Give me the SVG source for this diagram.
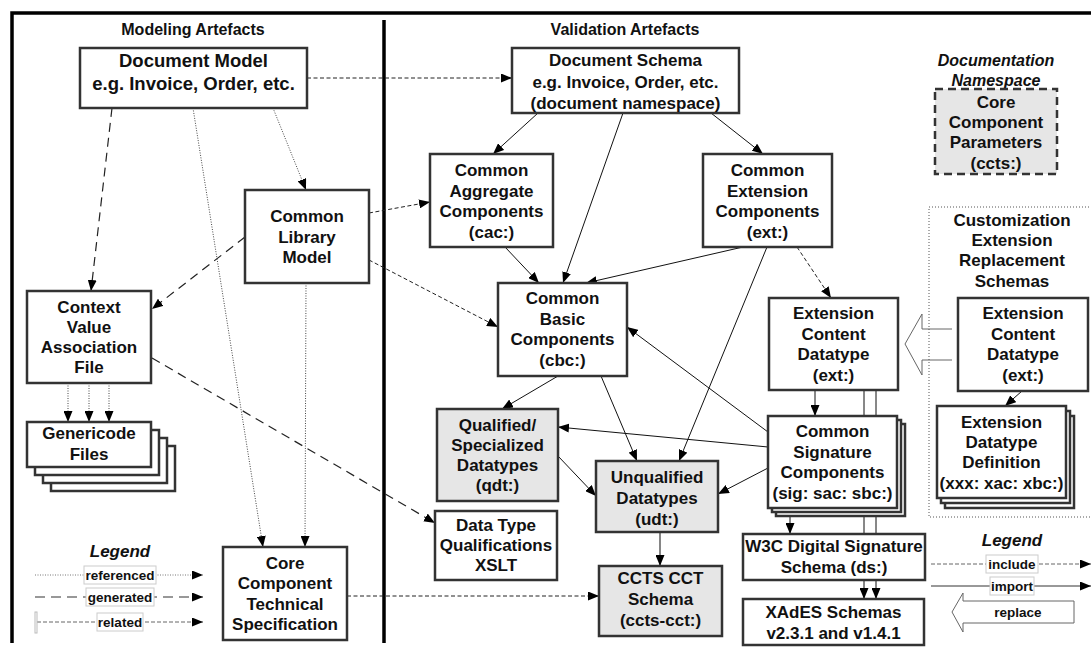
<svg xmlns="http://www.w3.org/2000/svg" width="1091" height="650" viewBox="0 0 1091 650">
<style>
.box{fill:#fff;stroke:#333;stroke-width:2.5}
.gbox{fill:#e6e6e6;stroke:#333;stroke-width:2.5}
.t{font-family:"Liberation Sans",Arial,sans-serif;font-weight:bold;font-size:17px;fill:#111;text-anchor:middle}
.ti{font-style:italic}
.lbl{font-size:13.5px}
.solid{stroke:#111;stroke-width:1;fill:none}
.rel{stroke:#222;stroke-width:1;stroke-dasharray:4 2.5;fill:none}
.gen{stroke:#222;stroke-width:1.2;stroke-dasharray:9 6;fill:none}
.ref{stroke:#444;stroke-width:1;stroke-dasharray:1 1.5;fill:none}
.lb{fill:#fff;stroke:#ccc;stroke-width:1}
.frame{stroke:#000;stroke-width:3.5;fill:none}
</style>
<defs>
<marker id="ah" markerUnits="userSpaceOnUse" markerWidth="11" markerHeight="9" refX="11" refY="4.5" orient="auto">
<path d="M0,0 L11,4.5 L0,9 z" fill="#000" stroke="none"/>
</marker>
</defs>
<rect width="1091" height="650" fill="#fff"/>
<g id="frame">
<path class="frame" d="M12,643 V13 H1091"/>
<path class="frame" d="M384,20 V643"/>
<text class="t" x="193" y="35" style="font-size:16px">Modeling Artefacts</text>
<text class="t" x="625" y="35" style="font-size:16px">Validation Artefacts</text>
</g>
<g id="connectors">
<path class="rel" d="M307,78 H512" marker-end="url(#ah)"/>
<path class="gen" d="M112,108 L91,291" marker-end="url(#ah)"/>
<path class="ref" d="M193,108 L263,547" marker-end="url(#ah)"/>
<path class="ref" d="M273,108 L306,190" marker-end="url(#ah)"/>
<path class="rel" d="M369,213 L430,202" marker-end="url(#ah)"/>
<path class="rel" d="M369,260 L498,327" marker-end="url(#ah)"/>
<path class="gen" d="M245,237 L152,309" marker-end="url(#ah)"/>
<path class="ref" d="M306,283 L305,547" marker-end="url(#ah)"/>
<path class="ref" d="M68,383 V422" marker-end="url(#ah)"/>
<path class="ref" d="M89,383 V422" marker-end="url(#ah)"/>
<path class="ref" d="M109,383 V422" marker-end="url(#ah)"/>
<path class="gen" d="M152,358 L435,523" marker-end="url(#ah)"/>
<path class="rel" d="M347,596 H599" marker-end="url(#ah)"/>
<path class="solid" d="M538,113 L493,154" marker-end="url(#ah)"/>
<path class="solid" d="M623,113 L563,283" marker-end="url(#ah)"/>
<path class="solid" d="M711,113 L763,154" marker-end="url(#ah)"/>
<path class="solid" d="M505,247 L539,283" marker-end="url(#ah)"/>
<path class="solid" d="M743,247 L586,283" marker-end="url(#ah)"/>
<path class="solid" d="M767,247 L679,461" marker-end="url(#ah)"/>
<path class="rel" d="M797,247 L831,298" marker-end="url(#ah)"/>
<path class="solid" d="M558,376 L502,409" marker-end="url(#ah)"/>
<path class="solid" d="M601,376 L637,461" marker-end="url(#ah)"/>
<path class="solid" d="M558,456 L596,496" marker-end="url(#ah)"/>
<path class="solid" d="M660,532 V566" style="stroke:#444;stroke-width:1.3" marker-end="url(#ah)"/>
<path class="solid" d="M768,432 L627,327" marker-end="url(#ah)"/>
<path class="solid" d="M768,447 L558,427" marker-end="url(#ah)"/>
<path class="solid" d="M768,468 L718,494" marker-end="url(#ah)"/>
<path class="solid" d="M815,390 V416" marker-end="url(#ah)"/>
<path class="solid" d="M864,390 V599" marker-end="url(#ah)"/>
<path class="solid" d="M876,390 V599" marker-end="url(#ah)"/>
<path class="solid" d="M790,516 V534" marker-end="url(#ah)"/>
<path class="solid" d="M1022,391 L1005,406" marker-end="url(#ah)"/>
<polyline points="952,329 922,329 922,314 905,344 922,375 922,360 952,360" fill="#fff" stroke="#666" stroke-width="1"/>
</g>
<g id="doc-model">
<rect class="box" x="80" y="48" width="227" height="60"/>
<text class="t" x="193.5" y="67" style="font-size:18.5px">Document Model</text>
<text class="t" x="193.5" y="90" style="font-size:18.5px">e.g. Invoice, Order, etc.</text>
</g>
<g id="doc-schema">
<rect class="box" x="512" y="48" width="227" height="65"/>
<text class="t" x="625.5" y="66">Document Schema</text>
<text class="t" x="625.5" y="88">e.g. Invoice, Order, etc.</text>
<text class="t" x="625.5" y="109">(document namespace)</text>
</g>
<g id="ccts-params">
<text class="t ti" x="996" y="66" style="font-size:16px">Documentation</text>
<text class="t ti" x="996" y="86" style="font-size:16px">Namespace</text>
<rect x="935" y="89" width="122" height="85" fill="#e6e6e6" stroke="#333" stroke-width="2.5" stroke-dasharray="8 5"/>
<text class="t" x="996" y="108">Core</text>
<text class="t" x="996" y="128">Component</text>
<text class="t" x="996" y="148">Parameters</text>
<text class="t" x="996" y="169">(ccts:)</text>
</g>
<g id="cac">
<rect class="box" x="430" y="154" width="123" height="93"/>
<text class="t" x="491.5" y="176">Common</text>
<text class="t" x="491.5" y="197">Aggregate</text>
<text class="t" x="491.5" y="217">Components</text>
<text class="t" x="491.5" y="238">(cac:)</text>
</g>
<g id="ext">
<rect class="box" x="703" y="154" width="129" height="93"/>
<text class="t" x="767.5" y="176">Common</text>
<text class="t" x="767.5" y="197">Extension</text>
<text class="t" x="767.5" y="217">Components</text>
<text class="t" x="767.5" y="238">(ext:)</text>
</g>
<g id="clm">
<rect class="box" x="245" y="190" width="124" height="93"/>
<text class="t" x="307" y="222">Common</text>
<text class="t" x="307" y="243">Library</text>
<text class="t" x="307" y="263">Model</text>
</g>
<g id="cva">
<rect class="box" x="27" y="291" width="124" height="92"/>
<text class="t" x="89" y="313">Context</text>
<text class="t" x="89" y="333">Value</text>
<text class="t" x="89" y="353">Association</text>
<text class="t" x="89" y="373">File</text>
</g>
<g id="genericode">
<rect class="box" x="51" y="446" width="124" height="45"/>
<rect class="box" x="43" y="438" width="124" height="45"/>
<rect class="box" x="35" y="430" width="124" height="45"/>
<rect class="box" x="27" y="422" width="124" height="45"/>
<text class="t" x="89" y="439">Genericode</text>
<text class="t" x="89" y="460">Files</text>
</g>
<g id="cbc">
<rect class="box" x="498" y="283" width="129" height="93"/>
<text class="t" x="562.5" y="304">Common</text>
<text class="t" x="562.5" y="325">Basic</text>
<text class="t" x="562.5" y="345">Components</text>
<text class="t" x="562.5" y="366">(cbc:)</text>
</g>
<g id="ecd">
<rect class="box" x="769" y="298" width="129" height="92"/>
<text class="t" x="833.5" y="319">Extension</text>
<text class="t" x="833.5" y="340">Content</text>
<text class="t" x="833.5" y="360">Datatype</text>
<text class="t" x="833.5" y="381">(ext:)</text>
</g>
<g id="customization">
<rect x="929" y="207" width="170" height="310" fill="none" stroke="#555" stroke-width="1" stroke-dasharray="1 2"/>
<text class="t" x="1012" y="226">Customization</text>
<text class="t" x="1012" y="246">Extension</text>
<text class="t" x="1012" y="266">Replacement</text>
<text class="t" x="1012" y="287">Schemas</text>
</g>
<g id="ecd2">
<rect class="box" x="958" y="298" width="130" height="93"/>
<text class="t" x="1023" y="319">Extension</text>
<text class="t" x="1023" y="340">Content</text>
<text class="t" x="1023" y="360">Datatype</text>
<text class="t" x="1023" y="381">(ext:)</text>
</g>
<g id="edd">
<rect class="box" x="945" y="416" width="129" height="92"/>
<rect class="box" x="941" y="411" width="129" height="92"/>
<rect class="box" x="937" y="406" width="129" height="92"/>
<text class="t" x="1001.5" y="428">Extension</text>
<text class="t" x="1001.5" y="448">Datatype</text>
<text class="t" x="1001.5" y="468">Definition</text>
<text class="t" x="1001.5" y="489">(xxx: xac: xbc:)</text>
</g>
<g id="qdt">
<rect class="gbox" x="437" y="409" width="121" height="92"/>
<text class="t" x="497.5" y="431">Qualified/</text>
<text class="t" x="497.5" y="451">Specialized</text>
<text class="t" x="497.5" y="471">Datatypes</text>
<text class="t" x="497.5" y="491">(qdt:)</text>
</g>
<g id="udt">
<rect class="gbox" x="596" y="461" width="122" height="71"/>
<text class="t" x="657" y="483">Unqualified</text>
<text class="t" x="657" y="504">Datatypes</text>
<text class="t" x="657" y="525">(udt:)</text>
</g>
<g id="dtq">
<rect class="box" x="435" y="511" width="122" height="69"/>
<text class="t" x="496" y="531">Data Type</text>
<text class="t" x="496" y="551">Qualifications</text>
<text class="t" x="496" y="571">XSLT</text>
</g>
<g id="cct">
<rect class="gbox" x="599" y="566" width="123" height="70"/>
<text class="t" x="660.5" y="584">CCTS CCT</text>
<text class="t" x="660.5" y="605">Schema</text>
<text class="t" x="660.5" y="626">(ccts-cct:)</text>
</g>
<g id="ccts-spec">
<rect class="box" x="223" y="547" width="124" height="93"/>
<text class="t" x="285" y="569">Core</text>
<text class="t" x="285" y="589">Component</text>
<text class="t" x="285" y="610">Technical</text>
<text class="t" x="285" y="630">Specification</text>
</g>
<g id="sig">
<rect class="box" x="776" y="424" width="129" height="92"/>
<rect class="box" x="772" y="420" width="129" height="92"/>
<rect class="box" x="768" y="416" width="129" height="92"/>
<text class="t" x="832.5" y="437">Common</text>
<text class="t" x="832.5" y="458">Signature</text>
<text class="t" x="832.5" y="478">Components</text>
<text class="t" x="832.5" y="499">(sig: sac: sbc:)</text>
</g>
<g id="w3c">
<rect class="box" x="743" y="534" width="182" height="46"/>
<text class="t" x="834" y="552">W3C Digital Signature</text>
<text class="t" x="834" y="573">Schema (ds:)</text>
</g>
<g id="xades">
<rect class="box" x="743" y="599" width="181" height="46"/>
<text class="t" x="833.5" y="618">XAdES Schemas</text>
<text class="t" x="833.5" y="639">v2.3.1 and v1.4.1</text>
</g>
<g id="legend-left">
<text class="t ti" x="120" y="557">Legend</text>
<path d="M35,575 H203" stroke="#777" stroke-width="1" stroke-dasharray="1 1.5" marker-end="url(#ah)"/>
<path d="M35,597 H203" stroke="#777" stroke-width="1.5" stroke-dasharray="10 6" marker-end="url(#ah)"/>
<path d="M37,622 H203" stroke="#666" stroke-width="1" stroke-dasharray="4 2" marker-end="url(#ah)"/>
<rect x="35" y="612" width="2" height="21" fill="none" stroke="#bbb" stroke-width="1"/>
<rect class="lb" x="84" y="566" width="72" height="18"/>
<rect class="lb" x="86" y="588" width="68" height="18"/>
<rect class="lb" x="97" y="613" width="46" height="18"/>
<text class="t lbl" x="120" y="580">referenced</text>
<text class="t lbl" x="120" y="602">generated</text>
<text class="t lbl" x="120" y="627">related</text>
</g>
<g id="legend-right">
<text class="t ti" x="1012" y="546">Legend</text>
<path d="M931,564 H1091" stroke="#666" stroke-width="1" stroke-dasharray="4 2" marker-end="url(#ah)"/>
<path d="M931,586 H1091" stroke="#333" stroke-width="1" marker-end="url(#ah)"/>
<rect class="lb" x="986" y="555" width="52" height="18"/>
<rect class="lb" x="990" y="577" width="44" height="18"/>
<text class="t lbl" x="1012" y="569">include</text>
<text class="t lbl" x="1012" y="591">import</text>
<polygon points="1074,601 963,601 963,593 952,612 963,632 963,623 1074,623" fill="#fff" stroke="#666" stroke-width="1"/>
<text class="t lbl" x="1018" y="617">replace</text>
</g>
</svg>
